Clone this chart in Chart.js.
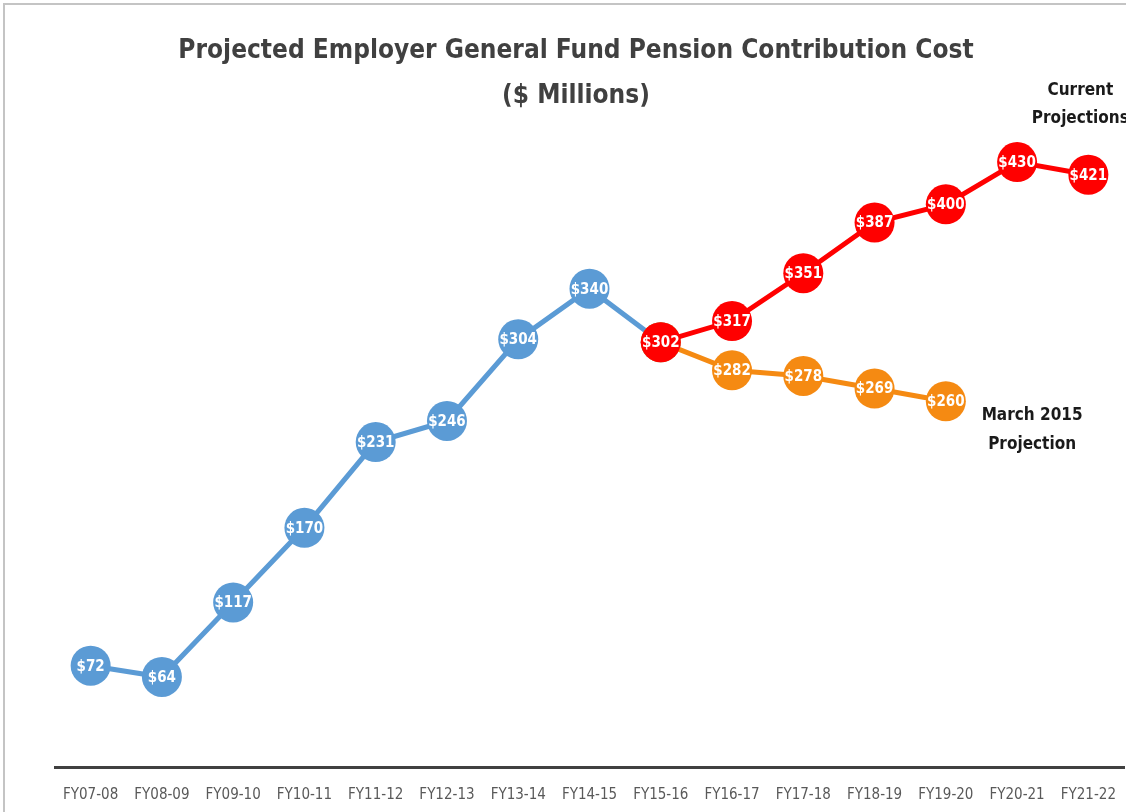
<!DOCTYPE html>
<html>
<head>
<meta charset="utf-8">
<script src="https://cdn.jsdelivr.net/npm/chart.js@4"></script>
<style>
  html, body { margin: 0; padding: 0; background: #fff; }
  #wrap { width: 1126px; height: 812px; position: relative; }
</style>
</head>
<body>
<div id="wrap"><canvas id="pension" width="1126" height="812"></canvas></div>
<script>
// fiscal years on the x axis
const years = ['FY07-08', 'FY08-09', 'FY09-10', 'FY10-11', 'FY11-12', 'FY12-13', 'FY13-14', 'FY14-15',
  'FY15-16', 'FY16-17', 'FY17-18', 'FY18-19', 'FY19-20', 'FY20-21', 'FY21-22'];

// actuals up to FY15-16
const actual = [72, 64, 117, 170, 231, 246, 304, 340, 302, null, null, null, null, null, null];
// current projections from FY15-16
const current = [null, null, null, null, null, null, null, null, 302, 317, 351, 387, 400, 430, 421];
// March 2015 projection
const march2015 = [null, null, null, null, null, null, null, null, 302, 282, 278, 269, 260, null, null];

const FONT = "'DejaVu Sans Condensed', 'Liberation Sans Narrow', sans-serif";

// white "$nnn" text inside each marker, drawn right after its dataset
const pointLabels = {
  id: 'pointLabels',
  afterDatasetDraw(chart, args) {
    const ctx = chart.ctx;
    const meta = args.meta;
    const data = chart.data.datasets[args.index].data;
    ctx.save();
    ctx.font = 'bold 15px ' + FONT;
    ctx.fillStyle = '#fff';
    ctx.textAlign = 'center';
    ctx.textBaseline = 'middle';
    meta.data.forEach((pt, i) => {
      if (data[i] == null) return;
      ctx.fillText('$' + data[i], pt.x, pt.y + 1);
    });
    ctx.restore();
  }
};

// frame and side notes
const extras = {
  id: 'extras',
  beforeDraw(chart) {
    const ctx = chart.ctx;
    ctx.save();
    ctx.fillStyle = '#fff';
    ctx.fillRect(0, 0, chart.width, chart.height);
    ctx.strokeStyle = '#c4c4c4';
    ctx.lineWidth = 2;
    ctx.beginPath();
    ctx.moveTo(4, chart.height);
    ctx.lineTo(4, 4);
    ctx.lineTo(chart.width, 4);
    ctx.stroke();
    ctx.restore();
  },
  afterDraw(chart) {
    const ctx = chart.ctx;
    const x = chart.scales.x, y = chart.scales.y;
    ctx.save();
    ctx.font = 'bold 17px ' + FONT;
    ctx.fillStyle = '#1a1a1a';
    ctx.textAlign = 'center';
    ctx.textBaseline = 'middle';
    const cx = x.getPixelForValue(14) - 8;
    ctx.fillText('Current', cx, y.getPixelForValue(481));
    ctx.fillText('Projections', cx, y.getPixelForValue(461));
    const mx = x.getPixelForValue(13) + 15;
    ctx.fillText('March 2015', mx, y.getPixelForValue(250));
    ctx.fillText('Projection', mx, y.getPixelForValue(229));
    ctx.restore();
  }
};

function series(label, data, color, order) {
  return {
    label: label,
    data: data,
    borderColor: color,
    backgroundColor: color,
    pointBackgroundColor: color,
    pointBorderColor: color,
    borderWidth: 5,
    pointRadius: 20,
    pointHoverRadius: 20,
    pointBorderWidth: 0,
    tension: 0,
    spanGaps: false,
    clip: false,
    order: order
  };
}

new Chart(document.getElementById('pension'), {
  type: 'line',
  data: {
    labels: years,
    datasets: [
      series('Actual', actual, '#5B9BD5', 3),
      series('March 2015 Projection', march2015, '#F58A12', 2),
      series('Current Projections', current, '#FF0000', 1)
    ]
  },
  options: {
    responsive: false,
    animation: false,
    layout: { autoPadding: false, padding: { left: 28, right: 2, top: 0, bottom: 0 } },
    plugins: {
      legend: { display: false },
      tooltip: { enabled: false },
      title: {
        display: true,
        text: ['Projected Employer General Fund Pension Contribution Cost', '($ Millions)'],
        color: '#404040',
        font: { family: FONT, size: 26, weight: 'bold', lineHeight: 1.73 },
        padding: { top: 29, bottom: 15 }
      }
    },
    scales: {
      x: {
        offset: true,
        grid: { display: false, drawTicks: false },
        border: { display: true, color: '#404040', width: 3 },
        ticks: { color: '#595959', font: { family: FONT, size: 15 }, padding: 19, maxRotation: 0, autoSkip: false },
        afterFit(scale) {
          scale.height = 45;
          scale.paddingLeft = 0;
          scale.paddingRight = 0;
        }
      },
      y: {
        display: true,
        min: 0,
        max: 450,
        grid: { display: false, drawTicks: false },
        border: { display: false },
        ticks: { display: false },
        afterFit(scale) {
          scale.width = 27;
        }
      }
    }
  },
  plugins: [pointLabels, extras]
});
</script>
</body>
</html>
